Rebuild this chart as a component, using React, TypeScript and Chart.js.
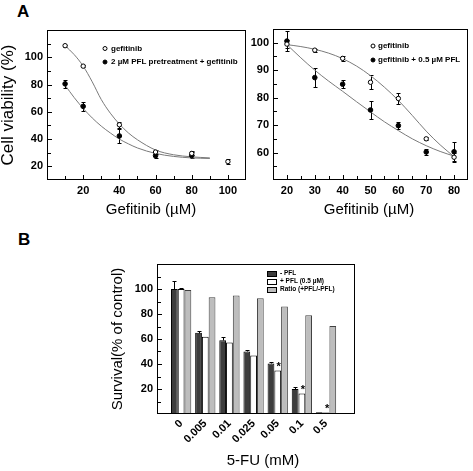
import React, { useEffect, useRef } from 'react';
import { Chart, registerables } from 'chart.js';

Chart.register(...registerables);

const FONT = '"Liberation Sans", Arial, Helvetica, sans-serif';

// ---------- Panel A (left): gefitinib vs 2 µM PFL pretreatment + gefitinib ----------
const leftDoses = [10, 20, 40, 60, 80, 100];
const leftGefitinib = [108.5, 93.5, 50.5, 30.5, 29.5, 23.5];
const leftGefitinibErr = [0.8, 0.8, 2.2, 1.5, 1.5, 2];
const leftPretreatDoses = [10, 20, 40, 60, 80];
const leftPretreat = [80.5, 64, 42.3, 27.8, 28];
const leftPretreatErr = [2.8, 3.4, 5, 1.5, 2.2];
const leftFitDoses = [10, 15, 20, 25, 30, 35, 40, 45, 50, 60, 70, 80, 90];
const leftFitGefitinib = [108.5, 102, 93.5, 82, 69, 59, 51, 44.5, 39.5, 32, 28.5, 27, 26.2];
const leftFitPretreat = [79.5, 70.5, 62.5, 55.5, 49.5, 44.5, 40, 36.5, 33.5, 29.5, 27.3, 26.2, 25.8];
const leftXLabels = [20, 40, 60, 80, 100];
const leftYLabels = [20, 40, 60, 80, 100];

// ---------- Panel A (right): gefitinib vs gefitinib + 0.5 µM PFL ----------
const rightDoses = [20, 30, 40, 50, 60, 70, 80];
const rightGefitinib = [99.5, 97.3, 94.3, 85.6, 79.7, 65, 58.3];
const rightGefitinibErr = [1.5, 0.5, 1, 2.5, 2, 0.5, 1.5];
const rightCombo = [100.6, 87.3, 84.9, 75.5, 69.8, 60.2, 60.3];
const rightComboErr = [3.5, 3.5, 1.5, 3.3, 1.3, 1, 3.7];
const rightFitDoses = [20, 25, 30, 35, 40, 45, 50, 55, 60, 65, 70, 75, 80];
const rightFitGefitinib = [99.3, 98.6, 97.6, 96.2, 94.2, 91.5, 88, 83.8, 79, 73.5, 67.8, 62.8, 58.5];
const rightFitCombo = [99.3, 94.5, 90, 86, 82.3, 78.5, 74.8, 71.2, 68, 65, 62.5, 60.4, 58.7];
const rightXLabels = [20, 30, 40, 50, 60, 70, 80];
const rightYLabels = [60, 70, 80, 90, 100];

// ---------- Panel B: 5-FU survival ----------
const fuDoses = ['0', '0.005', '0.01', '0.025', '0.05', '0.1', '0.5'];
const survivalNoPFL = [100, 65, 59, 50, 40.5, 20, 1.4];
const survivalNoPFLErr = [6.7, 1.8, 2.6, 1.2, 1.0, 1.6, 0];
const survivalPFL = [100, 61.8, 57.3, 46.8, 34.8, 16.4, 1.2];
const survivalPFLErr = [0.6, 0, 0, 0, 0, 0, 0];
const survivalRatio = [99.2, 93.5, 94.9, 92.7, 86, 79, 70.4];
const significant = [false, false, false, false, true, true, true];
const bYLabels = [20, 40, 60, 80, 100];

const pts = (xs: number[], ys: number[]) => xs.map((x, i) => ({ x, y: ys[i] }));

// ---------- plugins ----------
const framePlugin = {
  id: 'frame',
  afterDraw(chart: any) {
    const { ctx, chartArea: a } = chart;
    ctx.save();
    ctx.strokeStyle = '#000';
    ctx.lineWidth = 1;
    const l = Math.round(a.left) + 0.5;
    const t = Math.round(a.top) + 0.5;
    const r = Math.round(a.right) - 0.5;
    const b = Math.round(a.bottom) - 0.5;
    ctx.strokeRect(l, t, r - l, b - t);
    ctx.restore();
  },
};

const inTicks = (axes: string[]) => ({
  id: 'inTicks',
  afterDraw(chart: any) {
    const { ctx, chartArea: a } = chart;
    ctx.save();
    ctx.strokeStyle = '#000';
    ctx.lineWidth = 1;
    ctx.beginPath();
    for (const id of axes) {
      const s = chart.scales[id];
      s.ticks.forEach((t: any) => {
        const p = s.getPixelForValue(t.value);
        const len = t.label ? 4 : 3;
        if (id === 'y') {
          if (p < a.top + 2 || p > a.bottom - 2) return;
          const yy = Math.round(p) + 0.5;
          ctx.moveTo(a.left, yy);
          ctx.lineTo(a.left + len + 1, yy);
        } else {
          if (p < a.left + 2 || p > a.right - 2) return;
          const xx = Math.round(p) + 0.5;
          ctx.moveTo(xx, a.bottom);
          ctx.lineTo(xx, a.bottom - len - 1);
        }
      });
    }
    ctx.stroke();
    ctx.restore();
  },
});

const errorBars = {
  id: 'errorBars',
  beforeDatasetsDraw(chart: any) {
    const { ctx } = chart;
    ctx.save();
    ctx.strokeStyle = '#000';
    ctx.lineWidth = 1;
    chart.data.datasets.forEach((ds: any, i: number) => {
      if (!ds.errors) return;
      const meta = chart.getDatasetMeta(i);
      const ys = chart.scales[meta.yAxisID];
      meta.data.forEach((el: any, j: number) => {
        const e = ds.errors[j];
        if (!e) return;
        const v = ds.data[j].y;
        const x = Math.round(el.x) + 0.5;
        const top = Math.round(ys.getPixelForValue(v + e)) + 0.5;
        const bot = Math.round(ys.getPixelForValue(ds.errorUpOnly ? v : v - e)) + 0.5;
        const c = 2;
        ctx.beginPath();
        ctx.moveTo(x, top);
        ctx.lineTo(x, bot);
        ctx.moveTo(x - c, top);
        ctx.lineTo(x + c, top);
        if (!ds.errorUpOnly) {
          ctx.moveTo(x - c, bot);
          ctx.lineTo(x + c, bot);
        }
        ctx.stroke();
      });
    });
    ctx.restore();
  },
};

const starPlugin = {
  id: 'stars',
  afterDatasetsDraw(chart: any) {
    const { ctx } = chart;
    ctx.save();
    ctx.fillStyle = '#000';
    ctx.font = `bold 11px ${FONT}`;
    ctx.textAlign = 'center';
    ctx.textBaseline = 'alphabetic';
    chart.data.datasets.forEach((ds: any, i: number) => {
      if (!ds.stars) return;
      const meta = chart.getDatasetMeta(i);
      meta.data.forEach((el: any, j: number) => {
        if (ds.stars[j]) ctx.fillText('*', el.x + 1, el.y - 1);
      });
    });
    ctx.restore();
  },
};

const innerLegend = (cfg: { x: number; y: number; row: number; textX: number; font: string; kind: 'point' | 'box' }) => ({
  id: 'innerLegend',
  afterDraw(chart: any) {
    const { ctx, chartArea: a } = chart;
    ctx.save();
    ctx.font = cfg.font;
    ctx.textBaseline = 'middle';
    ctx.textAlign = 'left';
    ctx.lineWidth = 1;
    chart.data.datasets.forEach((ds: any) => {
      if (ds.legendRow === undefined) return;
      const y = a.top + cfg.y + ds.legendRow * cfg.row;
      const x = a.left + cfg.x;
      if (cfg.kind === 'box') {
        const w = 9;
        const h = 5;
        const bx = Math.round(x) + 0.5;
        const by = Math.round(y - h / 2) + 0.5;
        ctx.fillStyle = ds.backgroundColor;
        ctx.fillRect(bx, by, w, h);
        ctx.strokeStyle = '#000';
        ctx.strokeRect(bx, by, w, h);
      } else {
        ctx.beginPath();
        ctx.arc(x, y, 2, 0, Math.PI * 2);
        ctx.fillStyle = ds.pointBackgroundColor;
        ctx.fill();
        ctx.strokeStyle = '#000';
        ctx.stroke();
      }
      ctx.fillStyle = '#000';
      ctx.fillText(ds.label, a.left + cfg.textX, y);
    });
    ctx.restore();
  },
});

const xTitle = (text: string, dx: number, dy: number, size: number) => ({
  id: 'xTitle',
  afterDraw(chart: any) {
    const { ctx, chartArea: a } = chart;
    ctx.save();
    ctx.fillStyle = '#000';
    ctx.font = `${size}px ${FONT}`;
    ctx.textAlign = 'center';
    ctx.textBaseline = 'middle';
    ctx.fillText(text, (a.left + a.right) / 2 + dx, a.bottom + dy);
    ctx.restore();
  },
});

const tickFont = { family: FONT, size: 11, weight: 'bold' as const };

function linAxis(min: number, max: number, step: number, labels: number[], fit: (s: any) => void, extra: any = {}) {
  return {
    type: 'linear',
    min,
    max,
    grid: { display: false, drawTicks: false },
    border: { display: false },
    ticks: {
      stepSize: step,
      autoSkip: false,
      minRotation: 0,
      maxRotation: 0,
      padding: 4,
      color: '#000',
      font: tickFont,
      callback: (v: number) => (labels.includes(v) ? String(v) : ''),
    },
    afterFit: fit,
    ...extra,
  };
}

const baseOptions = {
  responsive: false,
  animation: false,
  devicePixelRatio: 1,
  events: [],
  plugins: { legend: { display: false }, tooltip: { enabled: false } },
};

const openPoint = { pointRadius: 2.2, pointBackgroundColor: '#fff', pointBorderColor: '#000', pointBorderWidth: 1 };
const filledPoint = { pointRadius: 2.3, pointBackgroundColor: '#000', pointBorderColor: '#000', pointBorderWidth: 1 };
const fitLine = { showLine: true, pointRadius: 0, borderColor: '#7a7a7a', borderWidth: 1, cubicInterpolationMode: 'monotone', fill: false };

function leftConfig(): any {
  return {
    type: 'scatter',
    data: {
      datasets: [
        { label: 'gefitinib', data: pts(leftDoses, leftGefitinib), errors: leftGefitinibErr, legendRow: 0, ...openPoint },
        { label: '2 µM PFL pretreatment + gefitinib', data: pts(leftPretreatDoses, leftPretreat), errors: leftPretreatErr, legendRow: 1, ...filledPoint },
        { label: 'fit gefitinib', data: pts(leftFitDoses, leftFitGefitinib), ...fitLine },
        { label: 'fit pretreatment', data: pts(leftFitDoses, leftFitPretreat), ...fitLine },
      ],
    },
    options: {
      ...baseOptions,
      layout: { padding: { top: 30, right: 6, left: 0, bottom: 0 } },
      scales: {
        x: linAxis(0, 110, 10, leftXLabels, (s) => { s.height = 50; }),
        y: linAxis(10, 120, 10, leftYLabels, (s) => { s.width = 47; }, {
          title: { display: true, text: 'Cell viability (%)', color: '#000', font: { family: FONT, size: 17, lineHeight: 1 }, padding: 0 },
        }),
      },
    },
    plugins: [
      errorBars,
      inTicks(['x', 'y']),
      framePlugin,
      innerLegend({ x: 58, y: 18.5, row: 13.5, textX: 64, font: `bold 8px ${FONT}`, kind: 'point' }),
      xTitle('Gefitinib (µM)', 4.5, 30, 15),
    ],
  };
}

function rightConfig(): any {
  return {
    type: 'scatter',
    data: {
      datasets: [
        { label: 'gefitinib', data: pts(rightDoses, rightGefitinib), errors: rightGefitinibErr, legendRow: 0, ...openPoint },
        { label: 'gefitinib + 0.5 µM PFL', data: pts(rightDoses, rightCombo), errors: rightComboErr, legendRow: 1, ...filledPoint },
        { label: 'fit gefitinib', data: pts(rightFitDoses, rightFitGefitinib), ...fitLine },
        { label: 'fit combo', data: pts(rightFitDoses, rightFitCombo), ...fitLine },
      ],
    },
    options: {
      ...baseOptions,
      layout: { padding: { top: 29, right: 1, left: 0, bottom: 0 } },
      scales: {
        x: linAxis(15, 85, 5, rightXLabels, (s) => { s.height = 50; }),
        y: linAxis(50, 105, 5, rightYLabels, (s) => { s.width = 25; }),
      },
    },
    plugins: [
      errorBars,
      inTicks(['x', 'y']),
      framePlugin,
      innerLegend({ x: 100, y: 17, row: 14, textX: 105, font: `bold 8px ${FONT}`, kind: 'point' }),
      xTitle('Gefitinib (µM)', -1.5, 30, 15),
    ],
  };
}

function barConfig(): any {
  const idx = fuDoses.map((_, i) => i);
  return {
    type: 'bar',
    data: {
      datasets: [
        { label: '- PFL', data: pts(idx, survivalNoPFL), backgroundColor: '#3d3d3d', borderColor: '#000', borderWidth: 1, errors: survivalNoPFLErr, errorUpOnly: true, legendRow: 0 },
        { label: '+ PFL (0.5 µM)', data: pts(idx, survivalPFL), backgroundColor: '#ffffff', borderColor: '#000', borderWidth: 1, errors: survivalPFLErr, errorUpOnly: true, stars: significant, legendRow: 1 },
        { label: 'Ratio (+PFL/-PFL)', data: pts(idx, survivalRatio), backgroundColor: '#bdbdbd', borderColor: '#404040', borderWidth: 1, legendRow: 2 },
      ],
    },
    options: {
      ...baseOptions,
      layout: { padding: { top: 14, right: 15, left: 0, bottom: 0 } },
      datasets: { bar: { categoryPercentage: 0.84, barPercentage: 1 } },
      scales: {
        x: {
          type: 'linear',
          min: -1,
          max: 7.2,
          offset: false,
          grid: { display: false, drawTicks: false },
          border: { display: false },
          ticks: {
            stepSize: 1,
            includeBounds: false,
            autoSkip: false,
            minRotation: 45,
            maxRotation: 45,
            padding: 3,
            color: '#000',
            font: tickFont,
            callback: (v: number) => (Number.isInteger(v) && v >= 0 && v < fuDoses.length ? fuDoses[v] : ''),
          },
          afterFit: (s: any) => { s.height = 57; },
        },
        y: linAxis(0, 120, 10, bYLabels, (s) => { s.width = 57; }, {
          title: { display: true, text: 'Survival(% of control)', color: '#000', font: { family: FONT, size: 15, lineHeight: 1.2 }, padding: { top: 9, bottom: 0 } },
        }),
      },
    },
    plugins: [
      errorBars,
      starPlugin,
      inTicks(['y']),
      framePlugin,
      innerLegend({ x: 110, y: 9, row: 8, textX: 123, font: `bold 6.5px ${FONT}`, kind: 'box' }),
      xTitle('5-FU (mM)', 7, 47, 15),
    ],
  };
}

function ChartCanvas({ make, left, top, width, height }: { make: () => any; left: number; top: number; width: number; height: number }) {
  const ref = useRef<HTMLCanvasElement>(null);
  useEffect(() => {
    const chart = new Chart(ref.current as HTMLCanvasElement, make());
    return () => chart.destroy();
  }, []);
  return <canvas ref={ref} width={width} height={height} style={{ position: 'absolute', left, top, width, height }} />;
}

const letterStyle = (left: number, top: number): React.CSSProperties => ({
  position: 'absolute',
  left,
  top,
  font: `bold 17px ${FONT}`,
  lineHeight: '17px',
  color: '#000',
});

export default function App() {
  return (
    <div style={{ position: 'fixed', left: 0, top: 0, width: 473, height: 471, background: '#fff', overflow: 'hidden' }}>
      <div style={letterStyle(17, 3)}>A</div>
      <div style={letterStyle(18, 231)}>B</div>
      <ChartCanvas make={leftConfig} left={0} top={0} width={252} height={230} />
      <ChartCanvas make={rightConfig} left={248} top={0} width={225} height={230} />
      <ChartCanvas make={barConfig} left={100} top={250} width={270} height={221} />
    </div>
  );
}
